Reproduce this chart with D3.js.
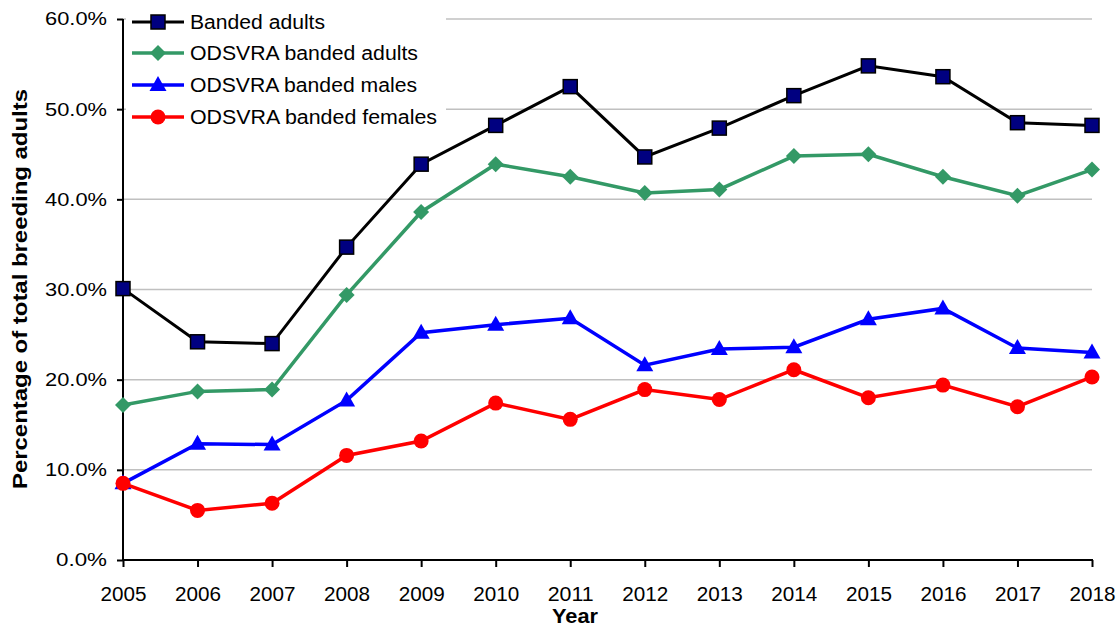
<!DOCTYPE html>
<html><head><meta charset="utf-8">
<script src="https://cdn.jsdelivr.net/npm/d3@7"></script>
<style>body{margin:0;background:#fff}svg{display:block;font-family:"Liberation Sans",Arial,sans-serif}</style>
</head><body><svg id="c" width="1118" height="626"></svg>
<script>
const years = [2005,2006,2007,2008,2009,2010,2011,2012,2013,2014,2015,2016,2017,2018];
const bandedAdults = [30.1,24.2,24.0,34.7,43.9,48.2,52.5,44.7,47.9,51.5,54.8,53.6,48.5,48.2];
const odsvraAdults = [17.2,18.7,18.9,29.4,38.6,43.9,42.5,40.7,41.1,44.8,45.0,42.5,40.4,43.3];
const odsvraMales = [8.5,12.9,12.8,17.7,25.2,26.1,26.8,21.6,23.4,23.6,26.7,27.9,23.5,23.0];
const odsvraFemales = [8.5,5.5,6.3,11.6,13.2,17.4,15.6,18.9,17.8,21.1,18.0,19.4,17.0,20.3];
const yTicks = [0,10,20,30,40,50,60];
const seriesNames = ["Banded adults","ODSVRA banded adults","ODSVRA banded males","ODSVRA banded females"];

const series = [
  {name: seriesNames[0], values: bandedAdults, color:"#000000", marker:"square", fill:"#000080", width:3, tl:135},
  {name: seriesNames[1], values: odsvraAdults, color:"#339966", marker:"diamond", fill:"#339966", width:3.5, tl:228},
  {name: seriesNames[2], values: odsvraMales, color:"#0000FF", marker:"triangle", fill:"#0000FF", width:3.5, tl:227},
  {name: seriesNames[3], values: odsvraFemales, color:"#FF0000", marker:"circle", fill:"#FF0000", width:3.5, tl:247}
];

const svg = d3.select("#c");
const x = d3.scalePoint().domain(years).range([123,1092]);
const y = d3.scaleLinear().domain([0,60]).range([560,19]);

// gridlines
svg.append("g").selectAll("line").data(yTicks.filter(t=>t>0)).join("line")
  .attr("x1",123).attr("x2",1092).attr("y1",d=>y(d)).attr("y2",d=>y(d))
  .attr("stroke","#c0c0c0").attr("stroke-width",1.5);

// legend background (covers gridlines)
svg.append("rect").attr("x",126).attr("y",0).attr("width",320).attr("height",136).attr("fill","#fff");

// axes
const yAxis = d3.axisLeft(y).tickValues(yTicks).tickFormat(d=>d.toFixed(1)+"%").tickSize(6).tickPadding(10);
const gy = svg.append("g").attr("transform","translate(123,0)").call(yAxis);
gy.select(".domain").attr("stroke","#000").attr("stroke-width",2).attr("d","M0,"+y(60)+"V"+y(0));
gy.selectAll(".tick line").attr("stroke","#000").attr("stroke-width",2);
gy.selectAll("text").attr("font-size",18.5).attr("fill","#000").attr("font-family","Liberation Sans, Arial, sans-serif")
  .attr("textLength",62).attr("lengthAdjust","spacingAndGlyphs");
gy.selectAll(".tick").filter(d=>d===0).select("text").attr("textLength",51);

const xAxis = d3.axisBottom(x).tickSize(7).tickPadding(19);
const gx = svg.append("g").attr("transform","translate(0,560)").call(xAxis);
gx.select(".domain").attr("stroke","#000").attr("stroke-width",2).attr("d","M123,0H1093");
gx.selectAll(".tick line").attr("stroke","#000").attr("stroke-width",2);
gx.selectAll("text").attr("font-size",20.5).attr("fill","#000").attr("font-family","Liberation Sans, Arial, sans-serif")
  .attr("textLength",46).attr("lengthAdjust","spacingAndGlyphs");

// titles
svg.append("text").attr("x",575).attr("y",623).attr("text-anchor","middle")
  .attr("font-size",21).attr("font-weight","bold").attr("textLength",46).attr("lengthAdjust","spacingAndGlyphs").text("Year");
svg.append("text").attr("transform","translate(27,289) rotate(-90)").attr("text-anchor","middle")
  .attr("font-size",21).attr("font-weight","bold").attr("textLength",400).attr("lengthAdjust","spacingAndGlyphs")
  .text("Percentage of total breeding adults");

function drawMarker(g, type, cx, cy, s){
  if(type==="square"){
    g.append("rect").attr("x",cx-7).attr("y",cy-7).attr("width",14).attr("height",14)
      .attr("fill",s.fill).attr("stroke","#000").attr("stroke-width",1.5);
  } else if(type==="diamond"){
    g.append("path").attr("d",`M${cx},${cy-8}L${cx+8},${cy}L${cx},${cy+8}L${cx-8},${cy}Z`).attr("fill",s.fill);
  } else if(type==="triangle"){
    g.append("path").attr("d",`M${cx},${cy-9}L${cx+8.5},${cy+6}L${cx-8.5},${cy+6}Z`).attr("fill",s.fill);
  } else {
    g.append("circle").attr("cx",cx).attr("cy",cy).attr("r",7.5).attr("fill",s.fill);
  }
}

const line = d3.line().x((d,i)=>x(years[i])).y(d=>y(d));
series.forEach(s=>{
  const g = svg.append("g");
  g.append("path").attr("d",line(s.values)).attr("fill","none").attr("stroke",s.color)
    .attr("stroke-width",s.width).attr("stroke-linejoin","miter");
  s.values.forEach((v,i)=>drawMarker(g,s.marker,x(years[i]),y(v),s));
});

// legend
const legY = [22,53,85,117];
series.forEach((s,i)=>{
  const g = svg.append("g");
  g.append("line").attr("x1",132).attr("x2",184).attr("y1",legY[i]).attr("y2",legY[i])
    .attr("stroke",s.color).attr("stroke-width",s.width);
  drawMarker(g,s.marker,158,legY[i],s);
  g.append("text").attr("x",190).attr("y",legY[i]).attr("dy","0.35em").attr("font-size",19.5).attr("fill","#000")
    .attr("textLength",s.tl).attr("lengthAdjust","spacingAndGlyphs").text(s.name);
});
</script></body></html>
